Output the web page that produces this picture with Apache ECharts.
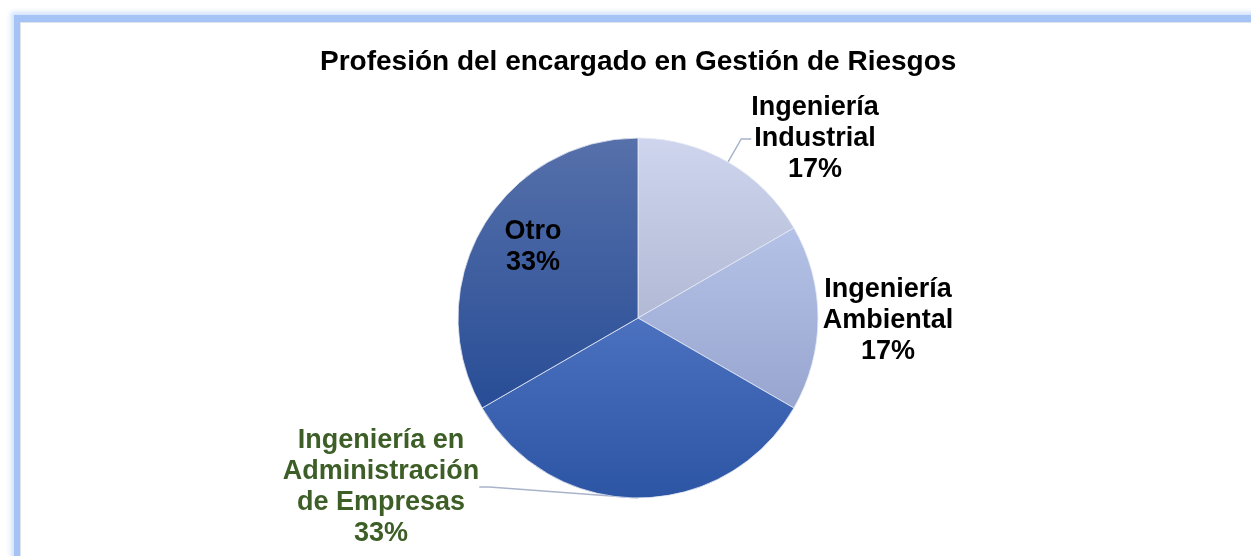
<!DOCTYPE html>
<html>
<head>
<meta charset="utf-8">
<title>Profesión del encargado en Gestión de Riesgos</title>
<script src="https://cdn.jsdelivr.net/npm/echarts@6/dist/echarts.min.js"></script>
<style>
    html, body { margin: 0; padding: 0; background: #fff; overflow: hidden; }
    #frame {
        position: absolute; left: 14px; top: 15px; width: 1300px; height: 600px;
        border: 6px solid #a6c3f5; border-top-width: 7px;
        box-shadow: 0 0 5px 3px rgba(190, 212, 250, 0.7), inset 1px 1px 0 #dfe3ea;
    }
    #main { position: absolute; left: 0; top: 0; width: 1251px; height: 556px; }
</style>
</head>
<body>
<div id="frame"></div>
<div id="main"></div>
<script>
    var categories = ['Ingeniería\nIndustrial', 'Ingeniería\nAmbiental', 'Ingeniería en\nAdministración\nde Empresas', 'Otro'];
    var values = [1, 1, 2, 2];
    var labelColors = ['#000', '#000', '#3d5e27', '#000'];
    // colores del degradado (arriba, abajo) de cada porción
    var topColors = ['#ced5ed', '#b4c2e7', '#4b71bf', '#5670aa'];
    var bottomColors = ['#b2b9d5', '#98a5cf', '#2c55a3', '#284d96'];
    // posición del centro de cada etiqueta
    var labelPos = [[815, 139], [888, 321], [381, 487], [533, 247]];

    function grad(i) {
        return new echarts.graphic.LinearGradient(0, 0, 0, 1, [
            { offset: 0, color: topColors[i] },
            { offset: 1, color: bottomColors[i] }
        ]);
    }

    var total = values.reduce(function(a, b) { return a + b; }, 0);

    var data = categories.map(function(name, i) {
        return {
            name: name,
            value: values[i],
            itemStyle: { color: grad(i) },
            label: { color: labelColors[i] },
            labelLine: { show: i === 0 || i === 2 }
        };
    });

    var chart = echarts.init(document.getElementById('main'));

    var option = {
        backgroundColor: 'transparent',
        animation: false,
        title: {
            text: 'Profesión del encargado en Gestión de Riesgos',
            left: 315,
            top: 43,
            textStyle: {
                fontFamily: 'Liberation Sans, Arial, sans-serif',
                fontSize: 28,
                fontWeight: 'bold',
                color: '#000'
            }
        },
        series: [{
            type: 'pie',
            center: [638, 318],
            radius: 180,
            startAngle: 90,
            clockwise: true,
            data: data,
            itemStyle: {
                borderColor: '#e6eaf4',
                borderWidth: 0.8
            },
            label: {
                show: true,
                position: 'outside',
                fontFamily: 'Liberation Sans, Arial, sans-serif',
                fontSize: 27,
                fontWeight: 'bold',
                lineHeight: 31,
                align: 'center',
                formatter: function(p) {
                    return p.name + '\n' + Math.round(p.value / total * 100) + '%';
                }
            },
            labelLine: {
                length: 10,
                length2: 10,
                lineStyle: { color: '#a9b3c9', width: 1.5 }
            },
            labelLayout: function(params) {
                var pos = labelPos[params.dataIndex];
                return {
                    x: pos[0],
                    y: pos[1],
                    align: 'center',
                    verticalAlign: 'middle'
                };
            }
        }]
    };

    chart.setOption(option);
</script>
</body>
</html>
